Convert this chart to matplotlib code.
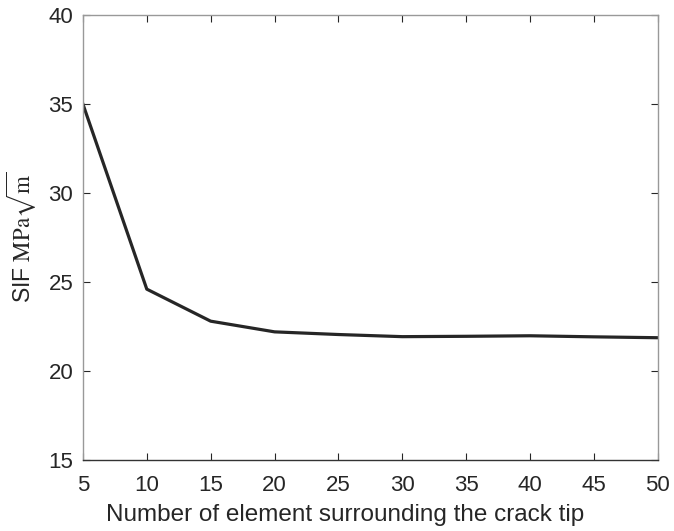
import matplotlib
matplotlib.use("Agg")
import matplotlib.pyplot as plt

# Anzahl Elemente um die Rissspitze und zugehoeriger Spannungsintensitaetsfaktor
elements = [5, 10, 15, 20, 25, 30, 35, 40, 45, 50]
sif = [35.0, 24.6, 22.8, 22.2, 22.05, 21.93, 21.95, 21.98, 21.92, 21.87]

x_ticks = [5, 10, 15, 20, 25, 30, 35, 40, 45, 50]
y_ticks = [15, 20, 25, 30, 35, 40]

plt.rcParams["font.family"] = ["Liberation Sans", "DejaVu Sans"]
plt.rcParams["mathtext.fontset"] = "stix"

fig = plt.figure(figsize=(6.74, 5.31), dpi=100)
ax = fig.add_axes([0.123, 0.1337, 0.853, 0.838])

ax.plot(elements, sif, color="#262626", linewidth=2.3)

ax.set_xlim(5, 50)
ax.set_ylim(15, 40)
ax.set_xticks(x_ticks)
ax.set_yticks(y_ticks)

ax.tick_params(direction="in", length=5, width=0.8, top=True, right=True,
               labelsize=16, colors="#262626")
ax.tick_params(axis="x", pad=11)
ax.tick_params(axis="y", pad=7)
for side in ["left", "top", "right"]:
    ax.spines[side].set_color("#999999")
    ax.spines[side].set_linewidth(1.0)
ax.spines["bottom"].set_color("#333333")
ax.spines["bottom"].set_linewidth(1.0)

ax.set_xlabel("Number of element surrounding the crack tip", fontsize=17.5,
              color="#262626")
ax.xaxis.set_label_coords(0.456, -0.099)
ax.set_ylabel(r"SIF $\mathrm{MPa}\sqrt{\mathrm{m}}$", fontsize=16.5,
              color="#262626")
ax.yaxis.set_label_coords(-0.077, 0.5)

fig.savefig("out.png", dpi=100)
